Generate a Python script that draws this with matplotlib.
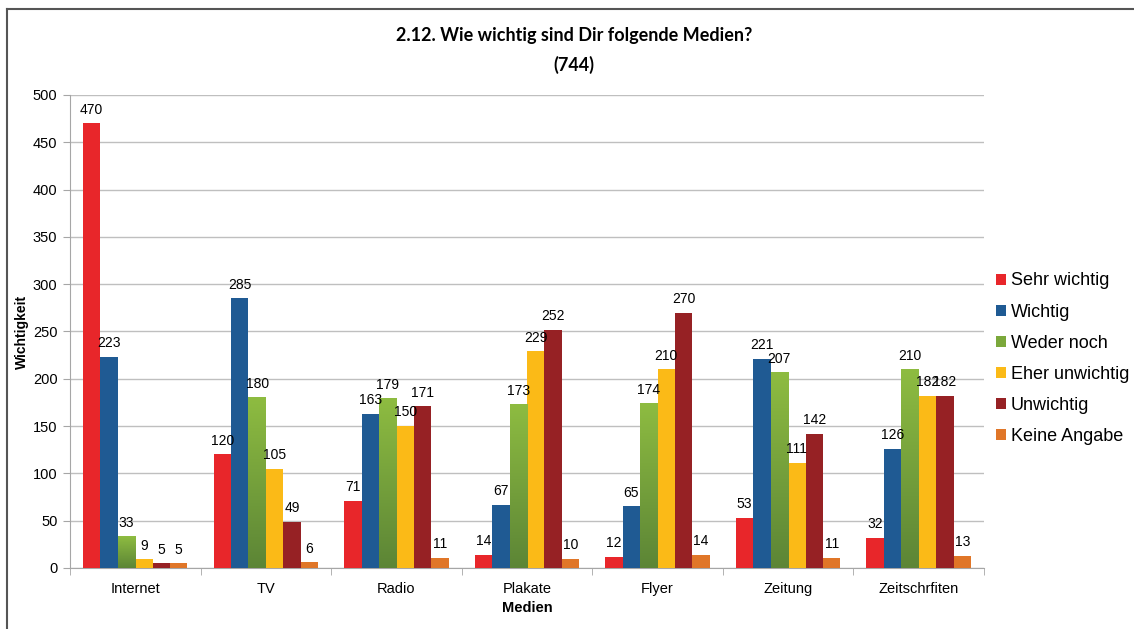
import numpy as np
import matplotlib.pyplot as plt
from matplotlib.lines import Line2D
from matplotlib.colors import LinearSegmentedColormap

# Daten
medien = ["Internet", "TV", "Radio", "Plakate", "Flyer", "Zeitung", "Zeitschrfiten"]
serien = ["Sehr wichtig", "Wichtig", "Weder noch", "Eher unwichtig", "Unwichtig", "Keine Angabe"]
sehr_wichtig = [470, 120, 71, 14, 12, 53, 32]
wichtig = [223, 285, 163, 67, 65, 221, 126]
weder_noch = [33, 180, 179, 173, 174, 207, 210]
eher_unwichtig = [9, 105, 150, 229, 210, 111, 182]
unwichtig = [5, 49, 171, 252, 270, 142, 182]
keine_angabe = [5, 6, 11, 10, 14, 11, 13]
werte = [sehr_wichtig, wichtig, weder_noch, eher_unwichtig, unwichtig, keine_angabe]
farben = ["#E8262A", "#1F5A93", "#7BA83B", "#FBBA17", "#962124", "#E07628"]

plt.rcParams['font.family'] = ['Liberation Sans', 'DejaVu Sans']

fig = plt.figure(figsize=(11.34, 6.29), dpi=100)
ax = fig.add_axes([0.0617, 0.097, 0.806, 0.752])

x = np.arange(len(medien))
n = len(serien)
breite = 0.8 / n
green_cmap = LinearSegmentedColormap.from_list("g", ["#5C8536", "#8EBC41"])

for i, (name, vals) in enumerate(zip(serien, werte)):
    pos = x - 0.4 + breite * (i + 0.5)
    bars = ax.bar(pos, vals, width=breite, color=farben[i], label=name, zorder=3)
    if name == "Weder noch":
        grad = np.linspace(0, 1, 256).reshape(-1, 1)
        for b in bars:
            x0, w, h = b.get_x(), b.get_width(), b.get_height()
            ax.imshow(grad, extent=(x0, x0 + w, 0, h), origin="lower",
                      cmap=green_cmap, aspect="auto", zorder=3.5)
    for p, v in zip(pos, vals):
        ax.text(p, v + 7, str(v), ha="center", va="bottom", fontsize=10, zorder=5)

ax.set_xlim(-0.5, len(medien) - 0.5)
ax.set_ylim(0, 500)
ax.set_yticks(range(0, 501, 50))
ax.yaxis.grid(True, color="#BFBFBF", linewidth=1, zorder=0)
ax.set_axisbelow(True)

ax.set_xticks(x)
ax.set_xticklabels(medien, fontsize=10.5)
ax.set_xticks(np.arange(-0.5, len(medien)), minor=True)
ax.tick_params(axis="x", which="major", length=0, pad=10)
ax.tick_params(axis="x", which="minor", length=5, color="#A6A6A6")
ax.tick_params(axis="y", length=5, color="#A6A6A6", labelsize=10.5, pad=4)

for s in ["top", "right"]:
    ax.spines[s].set_visible(False)
ax.spines["left"].set_color("#A6A6A6")
ax.spines["bottom"].set_color("#A6A6A6")

ax.set_xlabel("Medien", fontsize=10.5, fontweight="bold", labelpad=4)
ax.set_ylabel("Wichtigkeit", fontsize=10, fontweight="bold", labelpad=3)

fig.text(0.506, 0.944, "2.12. Wie wichtig sind Dir folgende Medien?", ha="center", va="center",
         fontsize=13, fontweight="bold", family=["Lato", "DejaVu Sans"])
fig.text(0.506, 0.897, "(744)", ha="center", va="center",
         fontsize=13, fontweight="bold", family=["Lato", "DejaVu Sans"])

ax.legend(loc="upper left", bbox_to_anchor=(1.005, 0.64), frameon=False, fontsize=13,
          handlelength=0.55, handleheight=0.55, handletextpad=0.3, labelspacing=0.78,
          borderaxespad=0)

# Rahmen links und oben
fig.add_artist(Line2D([7 / 1134, 7 / 1134], [0, 1 - 9 / 629], color="#555555", linewidth=1.5))
fig.add_artist(Line2D([7 / 1134, 1], [1 - 9 / 629, 1 - 9 / 629], color="#555555", linewidth=1.5))

fig.savefig("out.png", dpi=100)
